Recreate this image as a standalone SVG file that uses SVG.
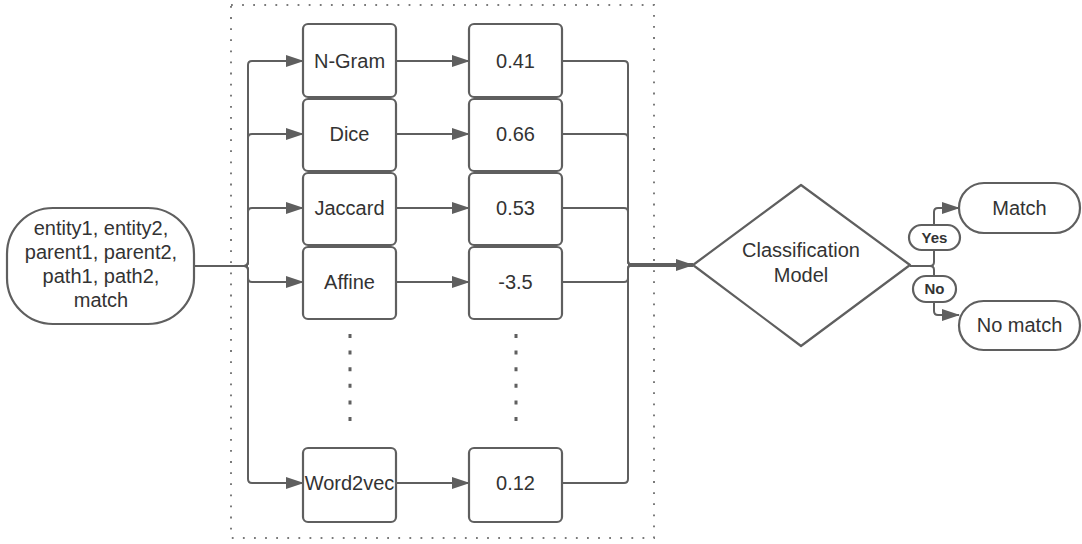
<svg xmlns="http://www.w3.org/2000/svg" width="1082" height="544" viewBox="0 0 1082 544">
<style>
.n{fill:#fff;stroke:#5f5f5f;stroke-width:2.2}
.t{font-family:"Liberation Sans",Arial,sans-serif;font-size:20px;fill:#333;text-anchor:middle}
.lb{font-family:"Liberation Sans",Arial,sans-serif;font-size:15px;font-weight:bold;fill:#333;text-anchor:middle}
.c{fill:none;stroke:#5f5f5f;stroke-width:2}
.d{fill:none;stroke:#5f5f5f;stroke-width:3;stroke-dasharray:4 12.6}
</style>
<defs>
<marker id="ah" markerUnits="userSpaceOnUse" markerWidth="18" markerHeight="12" refX="17" refY="6" orient="auto">
<path d="M0,0 L18,6 L0,12 Z" fill="#5f5f5f"/>
</marker>
</defs>
<rect x="231" y="5" width="423" height="533" fill="none" stroke="#7a7a7a" stroke-width="2" stroke-dasharray="1.8 9.3"/>
<g id="connectors">
<path class="c" marker-end="url(#ah)" d="M194,266 H244 Q248,266 248,262 V65 Q248,61 252,61 H303"/>
<path class="c" marker-end="url(#ah)" d="M194,266 H244 Q248,266 248,262 V138 Q248,134 252,134 H303"/>
<path class="c" marker-end="url(#ah)" d="M194,266 H244 Q248,266 248,262 V212 Q248,208 252,208 H303"/>
<path class="c" marker-end="url(#ah)" d="M194,266 H244 Q248,266 248,270 V278 Q248,282 252,282 H303"/>
<path class="c" marker-end="url(#ah)" d="M194,266 H244 Q248,266 248,270 V479 Q248,483 252,483 H303"/>
<path class="c" marker-end="url(#ah)" d="M396,61 H469"/>
<path class="c" marker-end="url(#ah)" d="M396,134 H469"/>
<path class="c" marker-end="url(#ah)" d="M396,208 H469"/>
<path class="c" marker-end="url(#ah)" d="M396,282 H469"/>
<path class="c" marker-end="url(#ah)" d="M396,483 H469"/>
<path class="c" d="M562,61 H624 Q628,61 628,65 V261 Q628,265 632,265"/>
<path class="c" d="M562,134 H624 Q628,134 628,138 V261 Q628,265 632,265"/>
<path class="c" d="M562,208 H624 Q628,208 628,212 V261 Q628,265 632,265"/>
<path class="c" d="M562,282 H624 Q628,282 628,278 V269 Q628,265 632,265"/>
<path class="c" d="M562,483 H624 Q628,483 628,479 V269 Q628,265 632,265"/>
<path class="c" style="stroke-width:4" marker-end="url(#ah)" d="M630,265 H693"/>
<path class="c" marker-end="url(#ah)" d="M910,266 H930 Q934,266 934,262 V212 Q934,208 938,208 H959"/>
<path class="c" marker-end="url(#ah)" d="M910,266 H930 Q934,266 934,270 V311 Q934,315 938,315 H959"/>
<path class="d" d="M350,334 V432"/>
<path class="d" d="M516,334 V432"/>
</g>
<g id="input">
<rect class="n" x="7" y="208" width="187" height="116" rx="46" ry="46"/>
<text class="t" x="101" y="235">entity1, entity2,</text>
<text class="t" x="101" y="259">parent1, parent2,</text>
<text class="t" x="101" y="283">path1, path2,</text>
<text class="t" x="101" y="307">match</text>
</g>
<g id="ngram"><rect class="n" x="303" y="24" width="93" height="73" rx="5"/><text class="t" x="349.5" y="68">N-Gram</text></g>
<g id="dice"><rect class="n" x="303" y="99" width="93" height="72" rx="5"/><text class="t" x="349.5" y="141">Dice</text></g>
<g id="jaccard"><rect class="n" x="303" y="173" width="93" height="72" rx="5"/><text class="t" x="349.5" y="215">Jaccard</text></g>
<g id="affine"><rect class="n" x="303" y="247" width="93" height="72" rx="5"/><text class="t" x="349.5" y="289">Affine</text></g>
<g id="word2vec"><rect class="n" x="303" y="448" width="93" height="74" rx="5"/><text class="t" x="349.5" y="490">Word2vec</text></g>
<g id="v041"><rect class="n" x="469" y="24" width="93" height="73" rx="5"/><text class="t" x="515.5" y="68">0.41</text></g>
<g id="v066"><rect class="n" x="469" y="99" width="93" height="72" rx="5"/><text class="t" x="515.5" y="141">0.66</text></g>
<g id="v053"><rect class="n" x="469" y="173" width="93" height="72" rx="5"/><text class="t" x="515.5" y="215">0.53</text></g>
<g id="v35"><rect class="n" x="469" y="247" width="93" height="72" rx="5"/><text class="t" x="515.5" y="289">-3.5</text></g>
<g id="v012"><rect class="n" x="469" y="448" width="93" height="74" rx="5"/><text class="t" x="515.5" y="490">0.12</text></g>
<g id="classifier">
<path class="n" stroke-linejoin="round" d="M693,265 L801,185 L910,265 L801,346 Z"/>
<text class="t" x="801" y="257">Classification</text>
<text class="t" x="801" y="282">Model</text>
</g>
<g id="yes"><rect class="n" x="909" y="225" width="51" height="25" rx="12.5"/><text class="lb" x="934.5" y="243">Yes</text></g>
<g id="no"><rect class="n" x="913" y="276" width="43" height="26" rx="13"/><text class="lb" x="934.5" y="294">No</text></g>
<g id="match"><rect class="n" x="959" y="183" width="121" height="50" rx="25"/><text class="t" x="1019.5" y="215">Match</text></g>
<g id="nomatch"><rect class="n" x="959" y="301" width="121" height="49" rx="24.5"/><text class="t" x="1019.5" y="332">No match</text></g>
</svg>
